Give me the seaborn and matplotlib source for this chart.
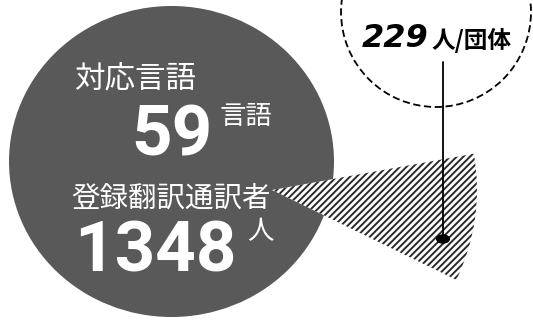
import matplotlib
matplotlib.use("Agg")
import matplotlib.pyplot as plt
from matplotlib.patches import Ellipse, Wedge, Circle
import seaborn as sns

# values shown in the infographic
stat_labels = ["対応言語", "登録翻訳通訳者"]
stat_values = [59, 1348]
stat_units = ["言語", "人"]
group_value = 229
group_unit = "人/団体"

sns.set_theme(style="white")
plt.rcParams['font.family'] = ['Noto Sans CJK JP', 'DejaVu Sans']
plt.rcParams['hatch.linewidth'] = 1.4

fig = plt.figure(figsize=(5.33, 3.23), dpi=100)
ax = fig.add_axes([0, 0, 1, 1])
ax.set_xlim(0, 533)
ax.set_ylim(323, 0)
ax.axis('off')

# big dark circle
ax.add_patch(Ellipse((171.5, 161.5), 325, 311, facecolor='#595959', edgecolor='none', zorder=1))

# hatched wedge coming out of the circle
ax.add_patch(Wedge((272, 190), 205, -10.2, 26, facecolor='white', edgecolor='#2a2a2a',
                   hatch='/////', linewidth=0, zorder=2))

# dashed circle for groups
ax.add_patch(Circle((436, 12), 95, facecolor='white', edgecolor='black', linewidth=1.3,
                    linestyle=(0, (4, 2)), zorder=2))

# leader line and dot
ax.plot([443, 443], [62, 239], color='black', linewidth=1.3, zorder=3)
ax.add_patch(Ellipse((443, 239), 14, 9.5, facecolor='black', edgecolor='none', zorder=4))

# texts in the circle
ax.text(135, 80, stat_labels[0], color='white', fontsize=22, ha='center', va='center', zorder=5)
ax.text(172, 155, str(stat_values[0]), color='white', fontsize=51, fontfamily='Roboto',
        fontweight='bold', ha='center', va='baseline', zorder=5)
ax.text(246, 117, stat_units[0], color='white', fontsize=19, ha='center', va='center', zorder=5)

ax.text(171, 199, stat_labels[1], color='white', fontsize=20.5, ha='center', va='center', zorder=5)
ax.text(155.5, 271, str(stat_values[1]), color='white', fontsize=51, fontfamily='Roboto',
        fontweight='bold', ha='center', va='baseline', zorder=5)
ax.text(260, 232, stat_units[1], color='white', fontsize=19, ha='center', va='center', zorder=5)

# text in the dashed circle
ax.text(362, 47, str(group_value), color='black', fontsize=23, fontfamily='DejaVu Sans',
        fontweight='bold', fontstyle='oblique', ha='left', va='baseline', zorder=5)
ax.text(431, 48, group_unit, color='black', fontsize=17, fontweight='bold',
        ha='left', va='baseline', zorder=5)

fig.savefig("out.png", dpi=100)
